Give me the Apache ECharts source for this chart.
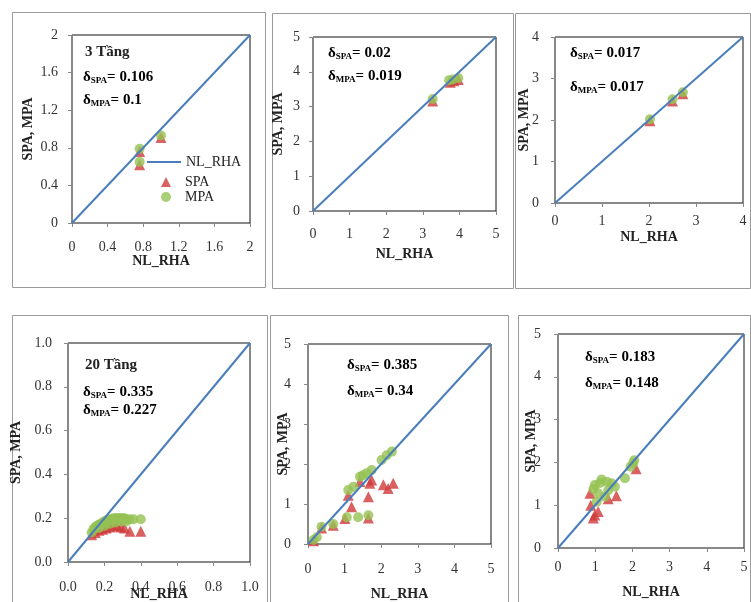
<!DOCTYPE html>
<html>
<head>
<meta charset="utf-8">
<script src="https://cdn.jsdelivr.net/npm/echarts@6/dist/echarts.min.js"></script>
<style>
  html, body { margin: 0; padding: 0; background: #fff; }
  #main { width: 751px; height: 602px; }
</style>
</head>
<body>
<div id="main"></div>
<script>
// axis range of each panel (square plots, 0..max)
var axisMax = [2, 5, 4, 1, 5, 5];
var axisStep = [0.4, 1, 1, 0.2, 1, 1];

var storeyText = ['3 Tầng', '', '', '20 Tầng', '', ''];
var deltaSpa = ['0.106', '0.02', '0.017', '0.335', '0.385', '0.183'];
var deltaMpa = ['0.1', '0.019', '0.017', '0.227', '0.34', '0.148'];

// [NL_RHA, SPA] / [NL_RHA, MPA]
var spa1 = [[0.76, 0.62], [0.76, 0.76], [1.0, 0.91]];
var mpa1 = [[0.76, 0.65], [0.76, 0.79], [1.0, 0.93]];

var spa2 = [[3.27, 3.16], [3.75, 3.7], [3.85, 3.74], [3.97, 3.78]];
var mpa2 = [[3.27, 3.22], [3.72, 3.76], [3.82, 3.78], [3.97, 3.82]];

var spa3 = [[2.02, 1.98], [2.5, 2.46], [2.72, 2.63]];
var mpa3 = [[2.02, 2.02], [2.5, 2.5], [2.72, 2.67]];

var spa4 = [[0.13, 0.125], [0.15, 0.135], [0.17, 0.145], [0.19, 0.15], [0.21, 0.155],
            [0.23, 0.16], [0.25, 0.165], [0.27, 0.165], [0.29, 0.16], [0.31, 0.155],
            [0.34, 0.14], [0.4, 0.14]];
var mpa4 = [[0.13, 0.135], [0.14, 0.15], [0.15, 0.16], [0.16, 0.165], [0.17, 0.17],
            [0.18, 0.175], [0.19, 0.18], [0.2, 0.185], [0.21, 0.19], [0.22, 0.19],
            [0.23, 0.195], [0.24, 0.195], [0.25, 0.2], [0.26, 0.2], [0.27, 0.2],
            [0.28, 0.2], [0.29, 0.2], [0.3, 0.2], [0.31, 0.2], [0.32, 0.195],
            [0.34, 0.195], [0.36, 0.195], [0.4, 0.195],
            [0.17, 0.155], [0.2, 0.165], [0.23, 0.175], [0.26, 0.18], [0.29, 0.185], [0.32, 0.185]];

var spa5 = [[0.15, 0.08], [0.37, 0.4], [0.69, 0.47], [1.01, 0.64], [1.65, 0.65],
            [1.1, 1.22], [1.19, 0.93], [1.65, 1.18], [1.42, 1.56], [1.69, 1.52],
            [1.74, 1.6], [2.06, 1.48], [2.19, 1.39], [2.33, 1.52]];
var mpa5 = [[0.15, 0.1], [0.24, 0.17], [0.37, 0.43], [0.69, 0.5], [1.06, 0.67],
            [1.37, 0.67], [1.65, 0.72], [1.1, 1.35], [1.24, 1.43], [1.42, 1.68],
            [1.5, 1.72], [1.6, 1.77], [1.74, 1.85], [2.01, 2.1], [2.15, 2.22], [2.29, 2.31]];

var spa6 = [[0.95, 0.7], [0.99, 0.77], [1.08, 0.85], [0.88, 1.0], [0.86, 1.28],
            [1.35, 1.15], [1.57, 1.22], [2.1, 1.85]];
var mpa6 = [[2.02, 1.98], [1.95, 1.9], [2.05, 2.05], [1.8, 1.63], [1.17, 1.6],
            [0.99, 1.47], [1.44, 1.51], [1.53, 1.43], [1.08, 1.28], [1.04, 1.08],
            [1.26, 1.2], [1.35, 1.35], [1.13, 1.52], [1.31, 1.55], [0.95, 1.38]];

var spaData = [spa1, spa2, spa3, spa4, spa5, spa6];
var mpaData = [mpa1, mpa2, mpa3, mpa4, mpa5, mpa6];

// layout of each panel
var grids = [
  { left: 72, top: 35, width: 178, height: 188 },
  { left: 313, top: 37, width: 183, height: 174 },
  { left: 555, top: 37, width: 188, height: 166 },
  { left: 68, top: 343, width: 182, height: 220 },
  { left: 308, top: 344, width: 183, height: 200 },
  { left: 558, top: 334, width: 186, height: 214 }
];
var frames = [
  [12, 12, 253, 275], [272, 13, 241, 275], [515, 13, 235, 275],
  [12, 315, 255, 300], [270, 315, 238, 300], [518, 315, 232, 300]
];
var yLabelMargin = [14, 13, 16, 16, 17, 17];
var xLabelMargin = [17, 16, 11, 18, 18, 12];
var xNameGap = [31, 36, 27, 25, 43, 37];
var yNameGap = [37, 28, 24, 45, 18, 20];
var textPos = [ // [left, storey y, spa y, mpa y]
  [83, 52, 77, 100], [328, 0, 53, 76], [570, 0, 53, 87],
  [83, 365, 392, 410], [347, 0, 365, 391], [585, 0, 357, 383]
];

var serif = "'Liberation Serif', 'Times New Roman', serif";
var blue = '#4a7ebb', red = '#d03a3a', green = '#95c253';

var main = document.getElementById('main');
var myChart = echarts.init(main);

var xAxes = [], yAxes = [], series = [], graphics = [];

grids.forEach(function (g, i) {
  g.show = true;
  g.borderColor = '#111';
  g.borderWidth = 1;
  var fmt = i === 3 ? function (v) { return v.toFixed(1); } : null;
  var common = {
    gridIndex: i,
    type: 'value',
    min: 0,
    max: axisMax[i],
    interval: axisStep[i],
    nameLocation: 'middle',
    nameMoveOverlap: false,
    nameTextStyle: { fontFamily: serif, fontWeight: 'bold', fontSize: 14, color: '#222' },
    axisLine: { lineStyle: { color: '#888', width: 1 } },
    axisTick: { lineStyle: { color: '#888' }, length: 4 },
    splitLine: { show: false }
  };
  xAxes.push(Object.assign({}, common, {
    name: 'NL_RHA',
    nameGap: xNameGap[i],
    axisLabel: { fontFamily: serif, fontSize: 14, color: '#333', margin: xLabelMargin[i], formatter: fmt }
  }));
  yAxes.push(Object.assign({}, common, {
    name: 'SPA, MPA',
    nameGap: yNameGap[i],
    axisLabel: { fontFamily: serif, fontSize: 14, color: '#333', margin: yLabelMargin[i], formatter: fmt }
  }));

  series.push({
    name: 'NL_RHA', type: 'line', xAxisIndex: i, yAxisIndex: i,
    data: [[0, 0], [axisMax[i], axisMax[i]]],
    symbol: 'none', silent: true,
    lineStyle: { color: blue, width: 2 }, itemStyle: { color: blue }
  });
  series.push({
    name: 'SPA', type: 'scatter', xAxisIndex: i, yAxisIndex: i,
    data: spaData[i], symbol: 'triangle', symbolSize: 11,
    itemStyle: { color: red }
  });
  series.push({
    name: 'MPA', type: 'scatter', xAxisIndex: i, yAxisIndex: i,
    data: mpaData[i], symbol: 'circle', symbolSize: 10,
    itemStyle: { color: green }
  });

  var f = frames[i];
  graphics.push({
    type: 'rect', z: -10, silent: true,
    shape: { x: f[0] + 0.5, y: f[1] + 0.5, width: f[2], height: f[3] },
    style: { fill: 'none', stroke: '#9a9a9a', lineWidth: 1 }
  });

  var rich = {
    d: { fontFamily: serif, fontWeight: 'bold', fontSize: 15, color: '#222' },
    s: { fontFamily: serif, fontWeight: 'bold', fontSize: 9, color: '#222', verticalAlign: 'bottom', padding: [7, 0, 0, 0] },
    v: { fontFamily: serif, fontWeight: 'bold', fontSize: 15, color: '#222' }
  };
  var p = textPos[i];
  if (storeyText[i]) {
    graphics.push({
      type: 'text', z: 10, silent: true,
      style: { x: p[0] + 2, y: p[1], text: storeyText[i], verticalAlign: 'middle',
               font: 'bold 15px ' + serif, fill: '#222' }
    });
  }
  graphics.push({
    type: 'text', z: 10, silent: true,
    style: { x: p[0], y: p[2], verticalAlign: 'middle', rich: rich,
             text: '{d|δ}{s|SPA}{v|= ' + deltaSpa[i] + '}' }
  });
  graphics.push({
    type: 'text', z: 10, silent: true,
    style: { x: p[0], y: p[3], verticalAlign: 'middle', rich: rich,
             text: '{d|δ}{s|MPA}{v|= ' + deltaMpa[i] + '}' }
  });
});

var legendText = { fontFamily: serif, fontSize: 14, color: '#222', lineHeight: 14 };

var option = {
  backgroundColor: '#fff',
  animation: false,
  grid: grids,
  xAxis: xAxes,
  yAxis: yAxes,
  legend: [{
    left: 147,
    top: 155,
    padding: 0,
    itemWidth: 34,
    itemHeight: 2,
    data: [{ name: 'NL_RHA', icon: 'rect' }],
    textStyle: legendText
  }, {
    orient: 'vertical',
    left: 161,
    top: 175,
    padding: 0,
    itemWidth: 10,
    itemHeight: 10,
    itemGap: 1,
    data: ['SPA', 'MPA'],
    textStyle: Object.assign({ padding: [0, 0, 0, 9] }, legendText)
  }],
  graphic: graphics,
  series: series
};

myChart.setOption(option);
</script>
</body>
</html>
